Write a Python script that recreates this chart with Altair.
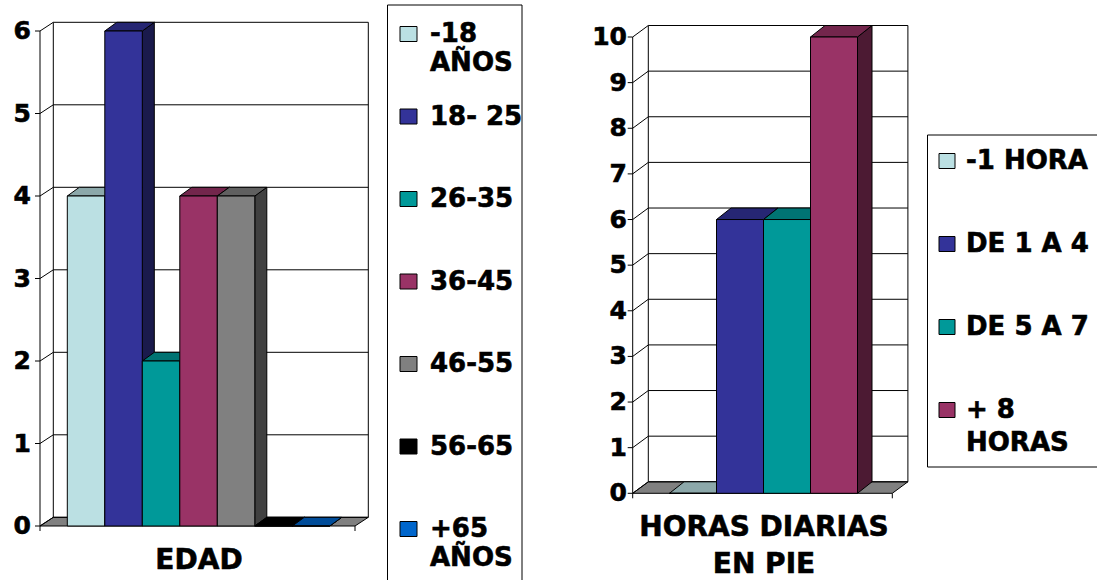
import altair as alt
import pandas as pd

# ---------------- data ----------------
edad_labels = ["-18\nAÑOS", "18- 25", "26-35", "36-45", "46-55", "56-65", "+65\nAÑOS"]
edad_values = [4, 6, 2, 4, 4, 0, 0]
edad_ticks = [0, 1, 2, 3, 4, 5, 6]
edad_title = ["EDAD"]

horas_labels = ["-1 HORA", "DE 1 A 4", "DE 5 A 7", "+ 8\nHORAS"]
horas_values = [0, 6, 6, 10]
horas_ticks = [0, 1, 2, 3, 4, 5, 6, 7, 8, 9, 10]
horas_title = ["HORAS DIARIAS", "EN PIE"]

# ---------------- style ----------------
edad_colors = ["#BBE0E3", "#333399", "#009999", "#993366", "#808080", "#000000", "#0066CC"]
horas_colors = ["#BBE0E3", "#333399", "#009999", "#993366"]
FLOOR = "#808080"
FONT = "DejaVu Sans"
TEXT_STYLE = dict(font=FONT, fontWeight="bold", color="black", stroke="black",
                  strokeWidth=0.6)
W, H = 1097, 580

# pixel layout of each 3-D panel
LEFT = dict(bar0=67.3, bar_w=37.5, floor_l=40.0, floor_r=355.0, zero=526.0, unit=82.5,
            floor_dx=13.3, floor_dy=8.7, bar_dx=12.0, bar_dy=8.7,
            label_x=31, title_x=199, title_y=561, title_gap=37)
RIGHT = dict(bar0=669.5, bar_w=47.0, floor_l=632.7, floor_r=892.3, zero=493.3, unit=45.63,
             floor_dx=15.6, floor_dy=11.5, bar_dx=14.5, bar_dy=11.5,
             label_x=627, title_x=764, title_y=528, title_gap=37)

LEG1 = dict(row0=34, step=82.5, gap=29, half=7.5, sx0=400, sx1=417, tx=430,
            box=(387.5, 522, 5, 600))
LEG2 = dict(row0=161, step=83, gap=33, half=7.5, sx0=939, sx1=955, tx=966,
            box=(927.5, 1110, 135, 467))


def shade(color, f):
    c = color.lstrip("#")
    r, g, b = (int(c[i:i + 2], 16) for i in (0, 2, 4))
    return "#{:02x}{:02x}{:02x}".format(round(r * f), round(g * f), round(b * f))


def panel(values, colors, ticks, title_lines, g):
    xs = alt.Scale(domain=[-g["bar0"] / g["bar_w"], (W - g["bar0"]) / g["bar_w"]],
                   nice=False, zero=False)
    ys = alt.Scale(domain=[(g["zero"] - H) / g["unit"], g["zero"] / g["unit"]],
                   nice=False, zero=False)

    def X(f):
        return alt.X(f"{f}:Q", scale=xs, axis=None, stack=None)

    def Y(f):
        return alt.Y(f"{f}:Q", scale=ys, axis=None, stack=None)

    lu = (g["floor_l"] - g["bar0"]) / g["bar_w"]
    ru = (g["floor_r"] - g["bar0"]) / g["bar_w"]
    fdx = g["floor_dx"] / g["bar_w"]
    fdy = g["floor_dy"] / g["unit"]
    bdx = g["bar_dx"] / g["bar_w"]
    bdy = g["bar_dy"] / g["unit"]
    top = max(ticks)
    tick_len = 5 / g["bar_w"]
    down_len = 5 / g["unit"]

    # floor
    floor_df = pd.DataFrame({"y": [0, fdy], "x": [lu, lu + fdx], "x2": [ru, ru + fdx]})
    floor = alt.Chart(floor_df).mark_area(
        orient="horizontal", fill=FLOOR, stroke="black", strokeWidth=1
    ).encode(y=Y("y"), x=X("x"), x2=alt.X2("x2"))

    # back-wall gridlines, side-wall diagonals and axis ticks
    grid_df = pd.DataFrame({"t": ticks})
    grid_df["gy"] = grid_df["t"] + fdy
    grid_df["gx"] = lu + fdx
    grid_df["gx2"] = ru + fdx
    grid_df["dx0"] = lu
    grid_df["tx0"] = lu - tick_len
    grid_df["label"] = grid_df["t"].astype(str)

    grid = alt.Chart(grid_df).mark_rule(color="black", strokeWidth=1).encode(
        x=X("gx"), x2=alt.X2("gx2"), y=Y("gy"))
    diag = alt.Chart(grid_df).mark_rule(color="black", strokeWidth=1).encode(
        x=X("dx0"), x2=alt.X2("gx"), y=Y("t"), y2=alt.Y2("gy"))
    tick_marks = alt.Chart(grid_df).mark_rule(color="black", strokeWidth=1).encode(
        x=X("tx0"), x2=alt.X2("dx0"), y=Y("t"))
    tick_labels = alt.Chart(grid_df).mark_text(
        align="right", baseline="middle", fontSize=25, **TEXT_STYLE
    ).encode(x=alt.value(g["label_x"]), y=Y("t"), text="label:N")

    # wall edges and the front axis
    edge_df = pd.DataFrame({"x": [lu + fdx, ru + fdx, lu],
                            "y": [fdy, fdy, 0],
                            "y2": [top + fdy, top + fdy, top]})
    edges = alt.Chart(edge_df).mark_rule(color="black", strokeWidth=1).encode(
        x=X("x"), y=Y("y"), y2=alt.Y2("y2"))
    down_df = pd.DataFrame({"x": [lu, ru], "y": [0, 0], "y2": [-down_len, -down_len]})
    downs = alt.Chart(down_df).mark_rule(color="black", strokeWidth=1).encode(
        x=X("x"), y=Y("y"), y2=alt.Y2("y2"))

    # bars: front faces, top faces and right side faces
    fronts, tops, sides = [], [], []
    for i, v in enumerate(values):
        fronts.append({"bar": i, "x0": i, "x1": i + 1, "y0": 0, "v": v, "c": colors[i]})
        tc = shade(colors[i], 0.75)
        sc = shade(colors[i], 0.5)
        tops.append({"bar": i, "y": v, "x": i, "x2": i + 1, "c": tc})
        tops.append({"bar": i, "y": v + bdy, "x": i + bdx, "x2": i + 1 + bdx, "c": tc})
        sides.append({"bar": i, "x": i + 1, "y": v, "y2": 0, "c": sc})
        sides.append({"bar": i, "x": i + 1 + bdx, "y": v + bdy, "y2": bdy, "c": sc})

    side_layer = alt.Chart(pd.DataFrame(sides)).mark_area(
        stroke="black", strokeWidth=1
    ).encode(x=X("x"), y=Y("y"), y2=alt.Y2("y2"),
             fill=alt.Fill("c:N", scale=None), detail="bar:N")
    top_layer = alt.Chart(pd.DataFrame(tops)).mark_area(
        orient="horizontal", stroke="black", strokeWidth=1
    ).encode(y=Y("y"), x=X("x"), x2=alt.X2("x2"),
             fill=alt.Fill("c:N", scale=None), detail="bar:N")
    front_layer = alt.Chart(pd.DataFrame(fronts)).mark_rect(
        stroke="black", strokeWidth=1
    ).encode(x=X("x0"), x2=alt.X2("x1"), y=Y("y0"), y2=alt.Y2("v"),
             fill=alt.Fill("c:N", scale=None))

    # category-axis title
    titles = []
    for j, line in enumerate(title_lines):
        titles.append(
            alt.Chart(pd.DataFrame({"t": [line]})).mark_text(
                align="center", baseline="middle", fontSize=28, **TEXT_STYLE
            ).encode(x=alt.value(g["title_x"]),
                     y=alt.value(g["title_y"] + j * g["title_gap"]),
                     text="t:N")
        )

    return alt.layer(floor, grid, diag, edges, downs, tick_marks, tick_labels,
                     side_layer, top_layer, front_layer, *titles)


def legend(labels, colors, g):
    ys = alt.Scale(domain=[-g["row0"] / g["step"], (H - g["row0"]) / g["step"]],
                   reverse=True, nice=False, zero=False)

    def Y(f):
        return alt.Y(f"{f}:Q", scale=ys, axis=None)

    bx0, bx1, by0, by1 = g["box"]
    box = alt.Chart(pd.DataFrame({"k": [0]})).mark_rect(
        fill="white", stroke="black", strokeWidth=1
    ).encode(x=alt.value(bx0), x2=alt.value(bx1), y=alt.value(by0), y2=alt.value(by1))

    h = g["half"] / g["step"]
    sq_df = pd.DataFrame({"r": range(len(labels)), "c": colors})
    sq_df["y0"] = sq_df["r"] - h
    sq_df["y1"] = sq_df["r"] + h
    squares = alt.Chart(sq_df).mark_rect(stroke="black", strokeWidth=1).encode(
        x=alt.value(g["sx0"]), x2=alt.value(g["sx1"]),
        y=Y("y0"), y2=alt.Y2("y1"), fill=alt.Fill("c:N", scale=None))

    rows = []
    for r, lab in enumerate(labels):
        for j, line in enumerate(lab.split("\n")):
            rows.append({"pos": r + j * g["gap"] / g["step"], "line": line})
    texts = alt.Chart(pd.DataFrame(rows)).mark_text(
        align="left", baseline="middle", fontSize=26, **TEXT_STYLE
    ).encode(x=alt.value(g["tx"]), y=Y("pos"), text="line:N")

    return alt.layer(box, squares, texts)


left_panel = panel(edad_values, edad_colors, edad_ticks, edad_title, LEFT)
right_panel = panel(horas_values, horas_colors, horas_ticks, horas_title, RIGHT)
leg1 = legend(edad_labels, edad_colors, LEG1)
leg2 = legend(horas_labels, horas_colors, LEG2)

chart = alt.layer(left_panel, right_panel, leg1, leg2).resolve_scale(
    x="independent", y="independent"
).properties(
    width=W, height=H, padding=0, background="white",
    autosize=alt.AutoSizeParams(type="none"),
).configure_view(stroke=None)

chart.save("out.html", embed_options={"renderer": "svg", "actions": False})
